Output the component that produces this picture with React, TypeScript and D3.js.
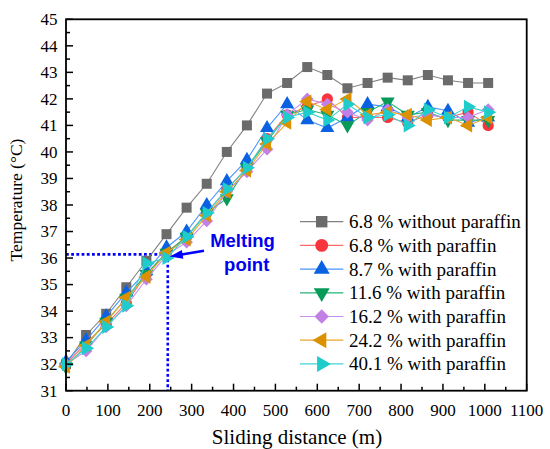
import * as d3 from 'd3';

const distance = [0, 48, 96, 144, 192, 240, 288, 336, 384, 432, 480, 528, 576, 624, 672, 720, 768, 816, 864, 912, 960, 1008];

const without68 = [32.0, 33.1, 33.9, 34.9, 35.9, 36.9, 37.9, 38.8, 40.0, 41.0, 42.2, 42.6, 43.2, 42.9, 42.4, 42.6, 42.8, 42.7, 42.9, 42.7, 42.6, 42.6];
const with68 = [32.0, 32.8, 33.5, 34.3, 35.4, 36.2, 36.8, 37.7, 38.6, 39.4, 40.5, 41.4, 41.7, 42.0, 41.3, 41.3, 41.3, 41.1, 41.4, 41.3, 41.5, 41.0];
const with87 = [32.1, 32.9, 33.8, 34.7, 35.5, 36.4, 37.0, 38.0, 38.9, 39.7, 40.9, 41.8, 41.2, 40.9, 41.3, 41.8, 41.7, 41.3, 41.7, 41.55, 41.1, 41.3];
const with116 = [31.9, 32.7, 33.6, 34.5, 35.4, 36.2, 36.8, 37.7, 38.25, 39.4, 40.4, 41.4, 41.6, 41.4, 41.0, 41.5, 41.9, 41.4, 41.5, 41.2, 41.2, 41.2];
const with162 = [32.0, 32.5, 33.4, 34.2, 35.2, 36.1, 36.6, 37.4, 38.5, 39.25, 40.1, 41.4, 42.0, 41.8, 41.5, 41.2, 41.6, 41.3, 41.4, 41.3, 41.3, 41.6];
const with242 = [31.9, 32.7, 33.6, 34.5, 35.3, 36.2, 36.7, 37.6, 38.5, 39.3, 40.3, 41.1, 41.9, 41.6, 42.0, 41.4, 41.5, 41.4, 41.2, 41.3, 41.0, 41.3];
const with401 = [32.0, 32.6, 33.4, 34.2, 35.8, 36.0, 36.8, 37.7, 38.6, 39.4, 40.5, 41.3, 41.5, 41.2, 41.8, 41.3, 41.4, 41.0, 41.6, 41.3, 41.7, 41.5];

const seriesNames = [
  '6.8 % without paraffin',
  '6.8 % with paraffin',
  '8.7 % with paraffin',
  '11.6 % with paraffin',
  '16.2 % with paraffin',
  '24.2 % with paraffin',
  '40.1 % with paraffin',
];
const seriesValues = [without68, with68, with87, with116, with162, with242, with401];

const xTicks = d3.range(0, 1101, 100);
const yTicks = d3.range(31, 45.1, 1);

const meltDistance = 243;
const meltTemp = 36.14;

const styles = [
  { fill: '#6b6b6b', line: '#808080', shape: d3.symbolSquare, size: 100, rot: 0 },
  { fill: '#f8343c', line: '#ff6b6b', shape: d3.symbolCircle, size: 100, rot: 0 },
  { fill: '#0a62e2', line: '#4b94ff', shape: d3.symbolTriangle, size: 85, rot: 0 },
  { fill: '#079a58', line: '#22b578', shape: d3.symbolTriangle, size: 85, rot: 180 },
  { fill: '#c27fe6', line: '#c88ef0', shape: d3.symbolSquare, size: 80, rot: 45 },
  { fill: '#db9102', line: '#e8a72a', shape: d3.symbolTriangle, size: 85, rot: -90 },
  { fill: '#1fcccc', line: '#3fd4d4', shape: d3.symbolTriangle, size: 85, rot: 90 },
];

const W = 550;
const H = 449;
const margin = { left: 66, right: 23.3, top: 19.3, bottom: 58.3 };

const serif = { fontFamily: "'Liberation Serif', Tinos, 'Times New Roman', 'DejaVu Serif', 'Noto Serif', serif" };
const sans = { fontFamily: "'Liberation Sans', Arial, Helvetica, sans-serif" };

export default function App() {
  const x = d3.scaleLinear().domain([0, 1100]).range([margin.left, W - margin.right]);
  const y = d3.scaleLinear().domain([31, 45]).range([H - margin.bottom, margin.top]);

  const line = d3
    .line<number>()
    .x((_, i) => x(distance[i]))
    .y((d) => y(d));

  const xMinor = d3.range(50, 1100, 100);
  const yMinor = d3.range(31.5, 45, 1);

  const legendX = 300;
  const legendY0 = 221.7;
  const legendStep = 23.7;

  const arrowStart = [204, 250.7];
  const arrowEnd = [x(meltDistance) + 2, y(meltTemp) + 2.2];

  return (
    <svg width={W} height={H} style={{ position: 'absolute', left: 0, top: 0, background: '#fff' }}>
      {/* melting point guides */}
      <g stroke="#0000ff" strokeWidth={2.6} strokeDasharray="2.8 2.4" fill="none">
        <line x1={x(0)} x2={x(meltDistance)} y1={y(meltTemp)} y2={y(meltTemp)} />
        <line x1={x(meltDistance)} x2={x(meltDistance)} y1={y(meltTemp)} y2={y(31)} />
      </g>

      {/* series */}
      {seriesValues.map((vals, si) => {
        const st = styles[si];
        const sym = d3.symbol().type(st.shape).size(st.size)();
        return (
          <g key={si}>
            <path d={line(vals) ?? ''} fill="none" stroke={st.line} strokeWidth={1.1} />
            {vals.map((v, i) => (
              <path
                key={i}
                d={sym ?? ''}
                fill={st.fill}
                transform={`translate(${x(distance[i])},${y(v)}) rotate(${st.rot})`}
              />
            ))}
          </g>
        );
      })}

      {/* arrow */}
      <line
        x1={arrowStart[0]}
        y1={arrowStart[1]}
        x2={arrowEnd[0] + 9}
        y2={arrowEnd[1] - 1.6}
        stroke="#0000ff"
        strokeWidth={2.6}
      />
      <path
        d={(() => {
          const ang = Math.atan2(arrowStart[1] - arrowEnd[1], arrowStart[0] - arrowEnd[0]);
          const len = 13;
          const hw = 4.5;
          const bx = arrowEnd[0] + len * Math.cos(ang);
          const by = arrowEnd[1] + len * Math.sin(ang);
          const px = -Math.sin(ang) * hw;
          const py = Math.cos(ang) * hw;
          return `M${arrowEnd[0]},${arrowEnd[1]}L${bx + px},${by + py}L${bx - px},${by - py}Z`;
        })()}
        fill="#0000ff"
      />
      <text x={242.5} y={246.7} textAnchor="middle" style={sans} fontWeight="bold" fontSize={18.5} fill="#0000ee">
        Melting
      </text>
      <text x={246.7} y={270.7} textAnchor="middle" style={sans} fontWeight="bold" fontSize={18.5} fill="#0000ee">
        point
      </text>

      {/* frame */}
      <rect
        x={margin.left}
        y={margin.top}
        width={W - margin.left - margin.right}
        height={H - margin.top - margin.bottom}
        fill="none"
        stroke="#000"
        strokeWidth={1.8}
      />

      {/* ticks */}
      <g stroke="#000" strokeWidth={1.5}>
        {xTicks.map((t) => (
          <line key={t} x1={x(t)} x2={x(t)} y1={y(31)} y2={y(31) - 7} />
        ))}
        {xMinor.map((t) => (
          <line key={'m' + t} x1={x(t)} x2={x(t)} y1={y(31)} y2={y(31) - 4} />
        ))}
        {yTicks.map((t) => (
          <line key={t} x1={x(0)} x2={x(0) + 7} y1={y(t)} y2={y(t)} />
        ))}
        {yMinor.map((t) => (
          <line key={'m' + t} x1={x(0)} x2={x(0) + 4} y1={y(t)} y2={y(t)} />
        ))}
      </g>
      <g style={serif} fontSize={17} fill="#000">
        {xTicks.map((t) => (
          <text key={t} x={x(t)} y={415.5} textAnchor="middle">
            {t}
          </text>
        ))}
        {yTicks.map((t) => (
          <text key={t} x={57.5} y={y(t) + 5.8} textAnchor="end">
            {t}
          </text>
        ))}
      </g>

      {/* axis titles */}
      <text x={297} y={443.5} textAnchor="middle" style={serif} fontSize={21} fill="#000">
        Sliding distance (m)
      </text>
      <text
        transform="translate(22,200) rotate(-90)"
        textAnchor="middle"
        style={serif}
        fontSize={17.5}
        fill="#000"
      >
        Temperature (°C)
      </text>

      {/* legend */}
      {seriesNames.map((name, si) => {
        const st = styles[si];
        const cy = legendY0 + si * legendStep;
        const sym = d3.symbol().type(st.shape).size(st.size * 1.3)();
        return (
          <g key={name}>
            <line x1={legendX} x2={legendX + 43.3} y1={cy} y2={cy} stroke={st.line} strokeWidth={1.2} />
            <path d={sym ?? ''} fill={st.fill} transform={`translate(${legendX + 21.7},${cy}) rotate(${st.rot})`} />
            <text x={legendX + 49} y={cy + 6.5} style={serif} fontSize={19} fill="#000">
              {name}
            </text>
          </g>
        );
      })}
    </svg>
  );
}
